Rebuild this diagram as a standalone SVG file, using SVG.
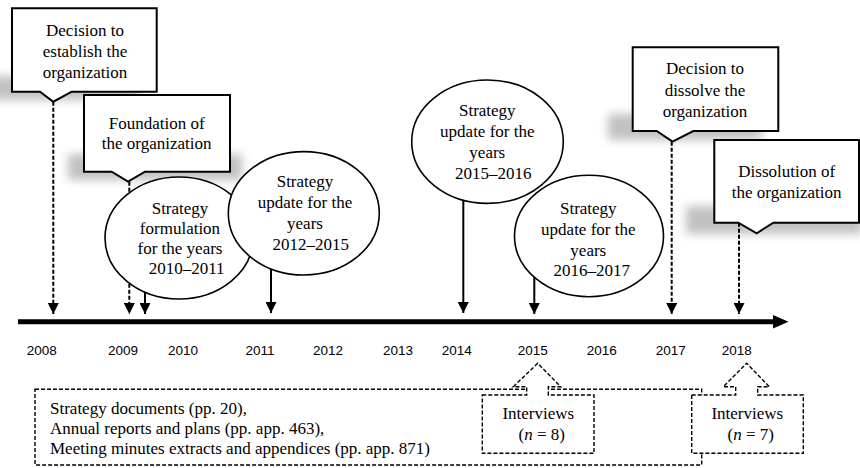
<svg xmlns="http://www.w3.org/2000/svg" width="860" height="468" viewBox="0 0 860 468">
<defs>
<filter id="blur" x="-30%" y="-100%" width="160%" height="300%"><feGaussianBlur stdDeviation="5"/></filter>
<marker id="ah" viewBox="0 0 10 10" refX="10" refY="5" markerWidth="11" markerHeight="11" markerUnits="userSpaceOnUse" orient="auto"><path d="M0,0 L10,5 L0,10 z" fill="#000"/></marker>
<style>
.t{font-family:"Liberation Serif","Times New Roman",serif;font-size:17px;fill:#000;text-anchor:middle}
.tl{font-family:"Liberation Serif","Times New Roman",serif;font-size:17px;fill:#000}
.yr{font-family:"Liberation Sans",Arial,sans-serif;font-size:13.5px;fill:#000;text-anchor:middle}
.box{fill:#fff;stroke:#000;stroke-width:2}
.ell{fill:#fff;stroke:#000;stroke-width:1.6}
.sh{fill:#777;opacity:0.45;filter:url(#blur)}
.dash{fill:none;stroke:#000;stroke-width:2;stroke-dasharray:4 2}
.solid{fill:none;stroke:#000;stroke-width:2}
.dbox{fill:#fff;stroke:#000;stroke-width:1.4;stroke-dasharray:4 2}
</style>
</defs>
<rect width="860" height="468" fill="#fff"/>

<g id="shadows">
<rect class="sh" x="-10" y="76" width="150" height="24"/>
<rect class="sh" x="68" y="154" width="174" height="26"/>
<rect class="sh" x="608" y="114" width="154" height="26"/>
<rect class="sh" x="686" y="206" width="176" height="28"/>
</g>

<g id="connectors">
<line x1="18" y1="321.8" x2="776" y2="321.8" stroke="#000" stroke-width="5"/>
<polygon points="773,315 788.5,321.8 773,328.5" fill="#000"/>
<line class="dash" x1="53.3" y1="101.7" x2="53.3" y2="314" marker-end="url(#ah)"/>
<line class="dash" x1="129.3" y1="181.7" x2="129.3" y2="314" marker-end="url(#ah)"/>
<line class="solid" x1="145" y1="280" x2="145" y2="314" marker-end="url(#ah)"/>
<line class="solid" x1="271" y1="260" x2="271" y2="313" marker-end="url(#ah)"/>
<line class="solid" x1="463.3" y1="195" x2="463.3" y2="313" marker-end="url(#ah)"/>
<line class="solid" x1="534.3" y1="270" x2="534.3" y2="314" marker-end="url(#ah)"/>
<line class="dash" x1="671.7" y1="141.7" x2="671.7" y2="314" marker-end="url(#ah)"/>
<line class="dash" x1="739" y1="222.7" x2="739" y2="314" marker-end="url(#ah)"/>
</g>

<g id="years">
<text class="yr" x="41.7" y="355">2008</text>
<text class="yr" x="123" y="355">2009</text>
<text class="yr" x="183" y="355">2010</text>
<text class="yr" x="260" y="355">2011</text>
<text class="yr" x="328" y="355">2012</text>
<text class="yr" x="398" y="355">2013</text>
<text class="yr" x="456.7" y="355">2014</text>
<text class="yr" x="532.7" y="355">2015</text>
<text class="yr" x="601.7" y="355">2016</text>
<text class="yr" x="670.7" y="355">2017</text>
<text class="yr" x="736.7" y="355">2018</text>
</g>

<g id="e2010">
<ellipse class="ell" cx="179" cy="238" rx="74" ry="61"/>
<text class="t" x="180" y="214">Strategy</text>
<text class="t" x="180" y="234">formulation</text>
<text class="t" x="180" y="254">for the years</text>
<text class="t" x="186.7" y="274">2010–2011</text>
</g>

<g id="e2012">
<ellipse class="ell" cx="303.8" cy="213.3" rx="75.5" ry="61.7"/>
<text class="t" x="305" y="187">Strategy</text>
<text class="t" x="305" y="208">update for the</text>
<text class="t" x="305" y="229">years</text>
<text class="t" x="310.7" y="250">2012–2015</text>
</g>

<g id="e2015">
<ellipse class="ell" cx="487.5" cy="141.7" rx="75.8" ry="61.7"/>
<text class="t" x="487.3" y="116">Strategy</text>
<text class="t" x="487.3" y="137">update for the</text>
<text class="t" x="487.3" y="158">years</text>
<text class="t" x="493.3" y="179">2015–2016</text>
</g>

<g id="e2016">
<ellipse class="ell" cx="589" cy="236" rx="74.5" ry="60.8"/>
<text class="t" x="588.3" y="214">Strategy</text>
<text class="t" x="588.3" y="235">update for the</text>
<text class="t" x="588.3" y="256">years</text>
<text class="t" x="591.7" y="276">2016–2017</text>
</g>

<g id="c-establish">
<path class="box" d="M12,8.3 H156.7 V91.7 H71.7 L53.3,101.7 L40,91.7 H12 Z"/>
<text class="t" x="85" y="36">Decision to</text>
<text class="t" x="85" y="57">establish the</text>
<text class="t" x="85" y="78">organization</text>
</g>

<g id="c-foundation">
<path class="box" d="M84,95 H230 V171.7 H145 L128,181.7 L111.7,171.7 H84 Z"/>
<text class="t" x="156.7" y="129">Foundation of</text>
<text class="t" x="156.7" y="149">the organization</text>
</g>

<g id="c-dissolve">
<path class="box" d="M632.7,47.3 H778.3 V131 H693.3 L672.5,141.7 L656.7,131 H632.7 Z"/>
<text class="t" x="705" y="74">Decision to</text>
<text class="t" x="705" y="95.5">dissolve the</text>
<text class="t" x="705" y="117">organization</text>
</g>

<g id="c-dissolution">
<path class="box" d="M714.3,140 H859 V222.7 H773.3 L756.7,233.3 L738.3,222.7 H714.3 Z"/>
<text class="t" x="786.7" y="177">Dissolution of</text>
<text class="t" x="786.7" y="198">the organization</text>
</g>

<g id="sources">
<rect class="dbox" x="35" y="389.3" width="666.7" height="75.7"/>
<text class="tl" x="50" y="414">Strategy documents (pp. 20),</text>
<text class="tl" x="50" y="434">Annual reports and plans (pp. app. 463),</text>
<text class="tl" x="50" y="454">Meeting minutes extracts and appendices (pp. app. 871)</text>
</g>

<g id="interviews-2015">
<path class="dbox" d="M482.3,395 H526.7 V386.7 H513.3 L537.7,363.3 L560.7,386.7 H548.3 V395 H594 V453.3 H482.3 Z"/>
<text class="t" x="538.3" y="419">Interviews</text>
<text class="t" x="541.7" y="440">(<tspan font-style="italic">n</tspan> = 8)</text>
</g>

<g id="interviews-2018">
<path class="dbox" d="M691.7,395 H735.7 V386.7 H723.3 L746.7,363.3 L769.3,386.7 H757.7 V395 H803.3 V453.3 H691.7 Z"/>
<text class="t" x="747.3" y="419">Interviews</text>
<text class="t" x="750.7" y="440">(<tspan font-style="italic">n</tspan> = 7)</text>
</g>
</svg>
